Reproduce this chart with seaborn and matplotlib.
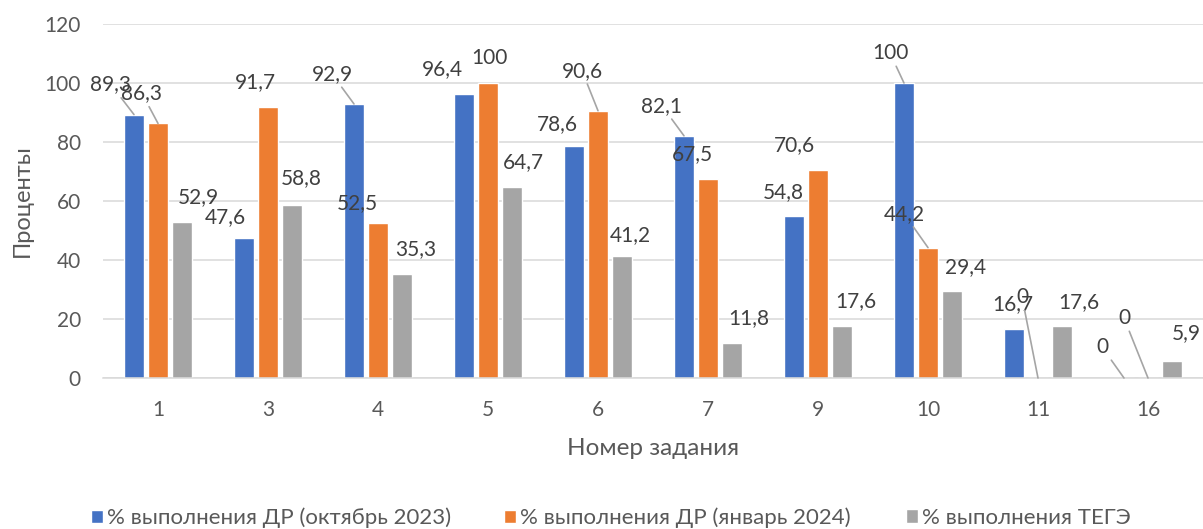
import pandas as pd
import matplotlib.pyplot as plt
import seaborn as sns
from matplotlib.patches import Patch

# --- data ---
tasks = ["1", "3", "4", "5", "6", "7", "9", "10", "11", "16"]
series_names = [
    "% выполнения ДР (октябрь 2023)",
    "% выполнения ДР (январь 2024)",
    "% выполнения ТЕГЭ",
]
oct_2023 = [89.3, 47.6, 92.9, 96.4, 78.6, 82.1, 54.8, 100, 16.7, 0]
jan_2024 = [86.3, 91.7, 52.5, 100, 90.6, 67.5, 70.6, 44.2, 0, 0]
tege = [52.9, 58.8, 35.3, 64.7, 41.2, 11.8, 17.6, 29.4, 17.6, 5.9]
colors = ["#4472C4", "#ED7D31", "#A5A5A5"]

# label placement: (dx, dy) pixels from the bar top, leader line flag
label_offsets = [
    [(-23, 30), (-19, 20), (-22, 30), (-22, 25), (-17, 22),
     (-22, 30), (-11, 24), (-14, 30), (-1, 25), (-22, 31)],
    [(-16, 30), (-13, 25), (-21, 20), (1, 25), (-16, 40),
     (-16, 25), (-24, 25), (-24, 34), (-16, 81), (-24, 60)],
    [(16, 25), (9, 26), (14, 25), (11, 25), (8, 21),
     (17, 25), (14, 25), (14, 24), (17, 24), (14, 28)],
]
leaders = [
    [1, 0, 1, 0, 0, 1, 0, 1, 0, 1],
    [1, 0, 0, 0, 1, 0, 0, 1, 1, 1],
    [0, 0, 0, 0, 0, 0, 0, 0, 0, 0],
]

df = pd.DataFrame({
    "task": tasks * 3,
    "value": oct_2023 + jan_2024 + tege,
    "series": [s for s in series_names for _ in tasks],
})

sns.set_style("white")
plt.rcParams["font.family"] = ["Lato", "Open Sans", "DejaVu Sans"]

fig = plt.figure(figsize=(12.03, 5.29), dpi=100)
fig.subplots_adjust(left=103 / 1203, right=1.0, bottom=1 - 378 / 529, top=1 - 24 / 529)
ax = fig.add_subplot(111)

sns.barplot(data=df, x="task", y="value", hue="series", order=tasks,
            hue_order=series_names, palette=colors, saturation=1,
            width=0.655, gap=0.2, legend=False, ax=ax)

ax.set_ylim(0, 120)
ax.set_yticks(range(0, 121, 20))
ax.grid(axis="y", color="#D9D9D9", linewidth=1.1)
ax.set_axisbelow(True)
for side in ["top", "right", "left"]:
    ax.spines[side].set_visible(False)
ax.spines["bottom"].set_color("#D9D9D9")
ax.spines["bottom"].set_linewidth(1.1)
ax.tick_params(axis="both", length=0, labelsize=15, labelcolor="#595959", pad=16)

ax.set_xlabel("Номер задания", fontsize=17.5, color="#595959")
ax.set_ylabel("Проценты", fontsize=17, color="#595959")
ax.xaxis.set_label_coords(0.5, -0.17)
ax.yaxis.set_label_coords(-0.064, 0.5)

# data labels
for i, cont in enumerate(ax.containers):
    for j, bar in enumerate(cont):
        x = bar.get_x() + bar.get_width() / 2
        h = bar.get_height()
        txt = f"{h:g}".replace(".", ",")
        dx, dy = label_offsets[i][j]
        arrow = None
        if leaders[i][j]:
            arrow = dict(arrowstyle="-", color="#A5A5A5", lw=1.2, shrinkA=0, shrinkB=0)
        ax.annotate(txt, xy=(x, h), xytext=(dx, dy), textcoords="offset pixels",
                    ha="center", va="center", fontsize=15, color="#404040",
                    arrowprops=arrow, annotation_clip=False)

# legend, one entry per series
legend_x = [91, 504, 906]
for name, c, lx in zip(series_names, colors, legend_x):
    leg = fig.legend(handles=[Patch(facecolor=c)], labels=[name],
                     loc="center left", bbox_to_anchor=(lx / 1203, 1 - 518 / 529),
                     frameon=False, fontsize=16, handlelength=0.55, handleheight=0.55,
                     handletextpad=0.15, borderpad=0, borderaxespad=0)
    for t in leg.get_texts():
        t.set_color("#595959")

fig.savefig("out.png", dpi=100)
